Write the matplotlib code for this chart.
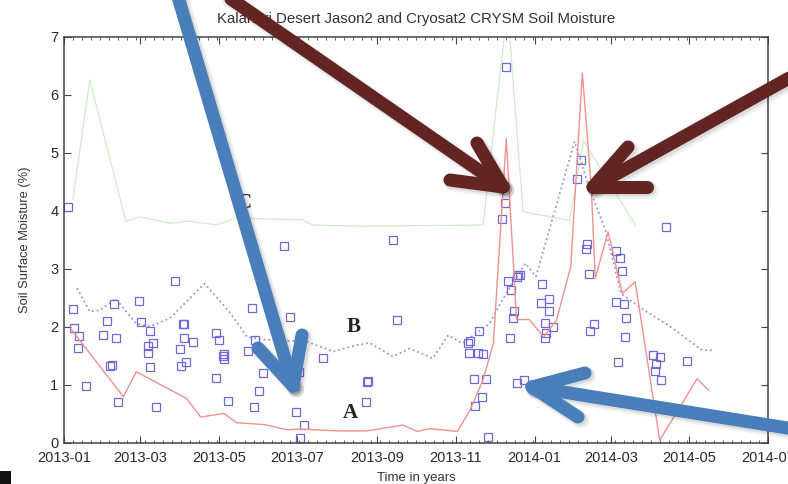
import matplotlib
matplotlib.use('Agg')
import matplotlib.pyplot as plt
import matplotlib.dates as mdates
from matplotlib.lines import Line2D
from matplotlib.patches import Rectangle
import pandas as pd

plt.rcParams['font.family'] = ['Liberation Sans', 'DejaVu Sans']

title = 'Kalahari Desert Jason2 and Cryosat2 CRYSM Soil Moisture'

# altimetry soil moisture retrievals (squares)
obs_dates = [
    '2013-01-04', '2013-01-08', '2013-01-09', '2013-01-13', '2013-01-12', '2013-01-18',
    '2013-02-03', '2013-01-31', '2013-02-09', '2013-02-10', '2013-02-06', '2013-02-07',
    '2013-02-12', '2013-02-28', '2013-03-02', '2013-03-09', '2013-03-07', '2013-03-11',
    '2013-03-07', '2013-03-09', '2013-03-13', '2013-03-28', '2013-04-03', '2013-04-04',
    '2013-04-04', '2013-04-11', '2013-04-01', '2013-04-06', '2013-04-02', '2013-04-29',
    '2013-05-01', '2013-05-04', '2013-05-05', '2013-05-05', '2013-04-29', '2013-05-08',
    '2013-05-27', '2013-05-29', '2013-05-24', '2013-06-04', '2013-06-01', '2013-05-28',
    '2013-06-21', '2013-06-25', '2013-06-28', '2013-07-02', '2013-06-30', '2013-07-06',
    '2013-07-03', '2013-07-21', '2013-08-24', '2013-08-25', '2013-08-23', '2013-09-16',
    '2013-09-13', '2013-11-19', '2013-11-12', '2013-11-10', '2013-11-11', '2013-11-18',
    '2013-11-22', '2013-11-15', '2013-11-24', '2013-11-21', '2013-11-16', '2013-11-26',
    '2013-12-10', '2013-12-09', '2013-12-07', '2013-12-11', '2013-12-14', '2013-12-19',
    '2013-12-21', '2013-12-18', '2013-12-16', '2013-12-15', '2013-12-13', '2013-12-18',
    '2013-12-24', '2014-01-07', '2014-01-06', '2014-01-12', '2014-01-12', '2014-01-09',
    '2014-01-15', '2014-01-10', '2014-01-09', '2014-02-06', '2014-02-03', '2014-02-11',
    '2014-02-10', '2014-02-12', '2014-02-16', '2014-02-13', '2014-03-05', '2014-03-08',
    '2014-03-10', '2014-03-05', '2014-03-11', '2014-03-13', '2014-03-12', '2014-03-07',
    '2014-04-13', '2014-04-03', '2014-04-08', '2014-04-05', '2014-04-04', '2014-04-09',
    '2014-04-29',
]
obs_values = [
    4.06, 2.31, 1.97, 1.84, 1.63, 0.97,
    2.09, 1.85, 2.38, 1.80, 1.32, 1.33,
    0.70, 2.44, 2.07, 1.93, 1.66, 1.71,
    1.55, 1.30, 0.62, 2.78, 2.04, 2.05,
    1.81, 1.73, 1.61, 1.39, 1.32, 1.89,
    1.76, 1.50, 1.52, 1.44, 1.12, 0.72,
    2.32, 1.77, 1.57, 1.20, 0.89, 0.62,
    3.39, 2.16, 0.98, 1.22, 0.53, 0.31,
    0.07, 1.45, 1.05, 1.06, 0.70, 2.11,
    3.50, 1.92, 1.75, 1.72, 1.55, 1.54,
    1.52, 1.09, 1.09, 0.78, 0.63, 0.09,
    6.47, 4.13, 3.86, 2.79, 2.63, 2.89,
    2.89, 2.86, 2.26, 2.14, 1.81, 1.03,
    1.07, 2.74, 2.41, 2.47, 2.27, 2.06,
    2.00, 1.89, 1.80, 4.87, 4.54, 3.43,
    3.34, 2.90, 2.04, 1.92, 3.31, 3.18,
    2.96, 2.43, 2.39, 2.14, 1.82, 1.38,
    3.72, 1.51, 1.48, 1.36, 1.23, 1.08,
    1.41,
]

# curve A (red)
a_dates = [
    '2013-01-06', '2013-02-16', '2013-02-26', '2013-04-06', '2013-04-17', '2013-05-05',
    '2013-05-15', '2013-06-05', '2013-06-23', '2013-07-03', '2013-08-03', '2013-08-24',
    '2013-09-21', '2013-10-02', '2013-10-12', '2013-11-02', '2013-11-12', '2013-11-22',
    '2013-11-30', '2013-12-10', '2013-12-16', '2013-12-18', '2013-12-28', '2014-01-08',
    '2014-01-18', '2014-01-29', '2014-02-07', '2014-02-14', '2014-02-17', '2014-02-27',
    '2014-03-10', '2014-03-20', '2014-04-08', '2014-05-07', '2014-05-16',
]
a_values = [
    1.97, 0.79, 1.22, 0.76, 0.44, 0.50,
    0.34, 0.31, 0.22, 0.23, 0.20, 0.20,
    0.30, 0.19, 0.24, 0.19, 0.56, 1.08,
    1.71, 5.24, 2.90, 2.12, 2.12, 1.82,
    2.11, 3.03, 6.37, 4.38, 2.83, 3.63,
    2.57, 2.77, 0.04, 1.10, 0.90,
]

# curve B (blue dotted)
b_dates = [
    '2013-01-11', '2013-01-21', '2013-01-29', '2013-02-10', '2013-02-26', '2013-03-09',
    '2013-03-24', '2013-04-20', '2013-05-10', '2013-05-23', '2013-06-07', '2013-07-08',
    '2013-07-29', '2013-08-11', '2013-08-26', '2013-09-13', '2013-09-26', '2013-10-14',
    '2013-10-26', '2013-11-06', '2013-11-27', '2013-12-07', '2013-12-25', '2014-01-02',
    '2014-02-01', '2014-02-13', '2014-02-25', '2014-03-09', '2014-03-23', '2014-04-16',
    '2014-05-11', '2014-05-20',
]
b_values = [
    2.66, 2.26, 2.28, 2.48, 2.05, 2.00,
    2.14, 2.74, 2.23, 1.82, 1.77, 1.74,
    1.57, 1.65, 1.72, 1.48, 1.62, 1.45,
    1.85, 1.71, 2.05, 2.46, 3.09, 2.86,
    5.19, 4.35, 3.66, 2.57, 2.34, 2.00,
    1.59, 1.59,
]

# curve C (green)
c_dates = [
    '2013-01-08', '2013-01-21', '2013-02-18', '2013-03-01', '2013-03-24', '2013-04-07',
    '2013-04-29', '2013-05-15', '2013-07-05', '2013-07-13', '2013-08-18', '2013-11-22',
    '2013-12-11', '2013-12-23', '2014-01-28', '2014-02-08', '2014-03-20',
]
c_values = [
    4.20, 6.25, 3.81, 3.89, 3.78, 3.82,
    3.75, 3.87, 3.84, 3.75, 3.73, 3.75,
    7.50, 3.98, 3.83, 5.20, 3.75,
]

curve_labels = ['A', 'B', 'C']
label_dates = ['2013-08-11', '2013-08-14', '2013-05-21']
label_values = [0.51, 1.99, 4.13]

W, H = 788, 484
fig = plt.figure(figsize=(W / 100, H / 100), dpi=100)
ax = fig.add_axes([64 / W, 1 - 442.5 / H, 704 / W, 406 / H])

ax.plot(pd.to_datetime(c_dates), c_values, color='#cdeec8', lw=0.9)
ax.plot(pd.to_datetime(b_dates), b_values, color='#9696dc', lw=1.3, ls=':')
ax.plot(pd.to_datetime(obs_dates), obs_values, 's', mfc='none', mec='#6e68dc',
        ms=5.2, mew=0.9)
ax.plot(pd.to_datetime(a_dates), a_values, color='#f39090', lw=1.0)

for lab, d, v in zip(curve_labels, label_dates, label_values):
    ax.text(pd.Timestamp(d), v, lab, family=['Liberation Serif', 'DejaVu Serif'],
            fontsize=15, fontweight='bold', color='#222222', ha='center', va='center')

ax.set_xlim(pd.Timestamp('2013-01-01'), pd.Timestamp('2014-07-01'))
ax.set_ylim(0, 7)
ax.xaxis.set_major_locator(mdates.MonthLocator(bymonth=[1, 3, 5, 7, 9, 11]))
ax.xaxis.set_major_formatter(mdates.DateFormatter('%Y-%m'))
ax.xaxis.set_minor_locator(mdates.WeekdayLocator(byweekday=mdates.TU))
ax.tick_params(which='both', direction='in', top=True, right=True,
               labelsize=10.5, labelcolor='#2a2a2a', color='#444444')
ax.tick_params(axis='x', pad=6)
ax.tick_params(axis='y', pad=4)
ax.tick_params(which='major', length=5)
ax.tick_params(which='minor', length=2.5)
for sp in ax.spines.values():
    sp.set_color('#444444')
    sp.set_linewidth(1.1)

ax.set_title(title, fontsize=10.8, color='#333333', pad=10)
ax.set_ylabel('Soil Surface Moisture (%)', fontsize=9.3, color='#333333', labelpad=14)
ax.set_xlabel('Time in years', fontsize=9.5, color='#333333', labelpad=5)


def px(x, y):
    return x / W, 1 - y / H


def draw_arrow(start, tip, wings, color):
    segs = [(start, tip)] + [(w, tip) for w in wings]
    # soft drop shadow under each stroke
    for off, alpha, lw in [(3, 0.06, 12), (2, 0.09, 10)]:
        for p, q in segs:
            (x0, y0), (x1, y1) = px(p[0] + off, p[1] + off), px(q[0] + off, q[1] + off)
            fig.add_artist(Line2D([x0, x1], [y0, y1], transform=fig.transFigure,
                                  color='black', alpha=alpha, lw=lw,
                                  solid_capstyle='round'))
    for p, q in segs:
        (x0, y0), (x1, y1) = px(*p), px(*q)
        fig.add_artist(Line2D([x0, x1], [y0, y1], transform=fig.transFigure,
                              color=color, lw=9.4, solid_capstyle='round'))


blue = '#4a7ebb'
maroon = '#632523'
draw_arrow((176, -10), (293, 386), [(258, 348), (302, 335)], blue)
draw_arrow((800, 430), (532, 387), [(585, 373), (578, 417)], blue)
draw_arrow((218, -10), (503, 187), [(477, 143), (450, 180)], maroon)
draw_arrow((800, 72), (593, 187), [(628, 147), (647, 187)], maroon)

fig.add_artist(Rectangle((0, 0), 11 / W, 13 / H, transform=fig.transFigure,
                         facecolor='#111111', edgecolor='none'))

fig.savefig('out.png', dpi=100)
